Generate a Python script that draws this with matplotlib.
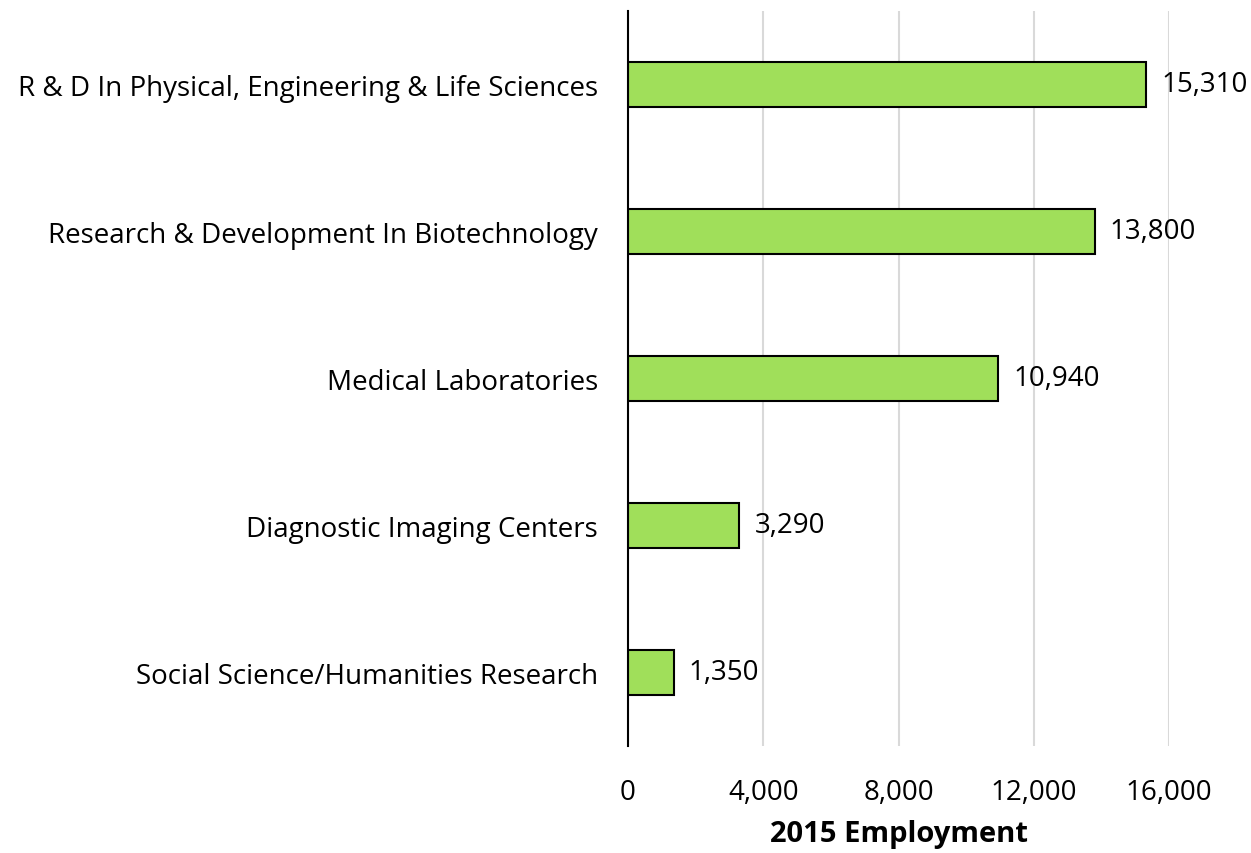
import matplotlib
matplotlib.use("Agg")
import matplotlib.pyplot as plt
from matplotlib.ticker import FuncFormatter

categories = ["Social Science/Humanities Research", "Diagnostic Imaging Centers",
              "Medical Laboratories", "Research & Development In Biotechnology",
              "R & D In Physical, Engineering & Life Sciences"]
values = [1350, 3290, 10940, 13800, 15310]
xticks = [0, 4000, 8000, 12000, 16000]

plt.rcParams['font.family'] = ['Open Sans', 'DejaVu Sans']
fig = plt.figure(figsize=(12.51, 8.54), dpi=100)
ax = fig.add_axes([0.502, 0.1253, 0.4325, 0.8607])

y = range(len(categories))
ax.barh(y, values, height=0.31, color="#A0DF5A", edgecolor="black", linewidth=1.5, zorder=3)
for yi, v in zip(y, values):
    ax.text(v + 450, yi, f"{v:,}", va="center", ha="left", fontsize=20)

ax.set_xlim(0, 16000)
ax.set_ylim(-0.5, 4.5)
ax.set_xticks(xticks)
ax.xaxis.set_major_formatter(FuncFormatter(lambda v, p: f"{int(v):,}"))
ax.set_yticks(list(y))
ax.set_yticklabels(categories, fontsize=20)
ax.tick_params(axis="x", length=0, pad=23, labelsize=20)
ax.tick_params(axis="y", length=0, pad=21.5)
ax.grid(axis="x", color="#D9D9D9", linewidth=1.5, zorder=0)
for s in ["top", "right", "bottom"]:
    ax.spines[s].set_visible(False)
ax.spines["left"].set_linewidth(1.5)
ax.spines["left"].set_zorder(4)
ax.set_xlabel("2015 Employment", fontsize=21, fontweight="bold", labelpad=9.5)

fig.savefig("out.png", dpi=100)
